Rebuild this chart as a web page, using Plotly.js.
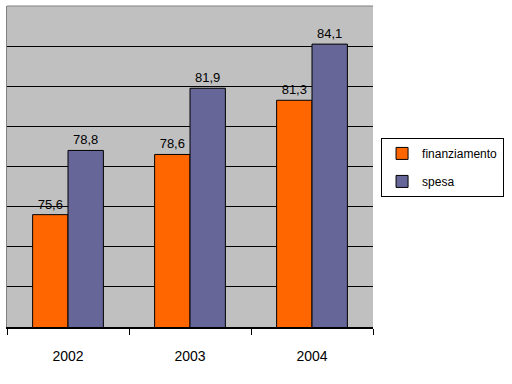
<!DOCTYPE html>
<html><head><meta charset="utf-8">
<script src="https://cdn.plot.ly/plotly-3.0.1.min.js"></script>
<style>html,body{margin:0;padding:0;background:#fff}#chart{width:512px;height:384px}</style>
</head><body><div id="chart"></div>
<script>
var years = ['2002', '2003', '2004'];
var finanziamento = [75.6, 78.6, 81.3];
var spesa = [78.8, 81.9, 84.1];
var seriesNames = ['finanziamento', 'spesa'];

var font = 'Liberation Sans, Arial, sans-serif';
var traces = [
  {type:'bar', name:seriesNames[0], x:years, y:finanziamento, legendgroup:'a',
   marker:{color:'#ff6600', line:{color:'#000', width:1}},
   texttemplate:'%{y:.1f}', textposition:'outside', cliponaxis:false,
   textfont:{family:font, size:13, color:'#000'}},
  {type:'bar', name:seriesNames[1], x:years, y:spesa, legendgroup:'b',
   marker:{color:'#666699', line:{color:'#000', width:1}},
   texttemplate:'%{y:.1f}', textposition:'outside', cliponaxis:false,
   textfont:{family:font, size:13, color:'#000'}}
];
var layout = {
  width:512, height:384,
  margin:{l:7, r:139, t:6, b:57, autoexpand:false},
  paper_bgcolor:'#fff', plot_bgcolor:'#c0c0c0',
  separators:',.',
  barmode:'group', bargap:0.42, bargroupgap:0,
  font:{family:font, size:13, color:'#000'},
  xaxis:{type:'category', showline:true, linecolor:'#000', linewidth:1.5,
    ticks:'outside', tickson:'boundaries', ticklen:6, tickcolor:'#000', tickwidth:1,
    ticklabelstandoff:16, tickfont:{family:font, size:14, color:'#000'}, showgrid:false},
  yaxis:{range:[70,86], dtick:2, showticklabels:false, ticks:'', showgrid:true,
    gridcolor:'#000', gridwidth:1, zeroline:false, showline:true, linecolor:'#808080', linewidth:1, mirror:false},
  shapes:[{type:'line', xref:'paper', yref:'paper', x0:0, x1:1, y0:1, y1:1, line:{color:'#808080', width:1}}],
  showlegend:true,
  legend:{x:1.022, y:0.589, xanchor:'left', yanchor:'top', bgcolor:'#fff',
    bordercolor:'#000', borderwidth:1, traceorder:'grouped', tracegroupgap:9,
    itemwidth:30,
    font:{family:font, size:12, color:'#000'}}
};
Plotly.newPlot('chart', traces, layout, {staticPlot:true});
</script></body></html>
